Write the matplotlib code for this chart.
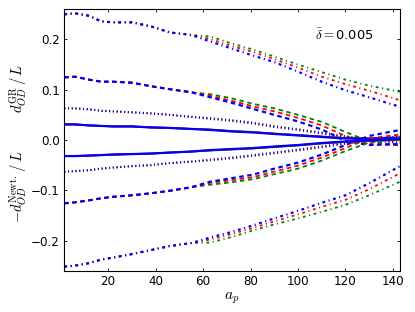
import matplotlib
matplotlib.use('Agg')
import matplotlib.pyplot as plt
import numpy as np

# sample positions along a_p
a_p = [1.5, 6, 12, 17, 22, 30, 38, 46, 55, 63, 72, 81, 90, 100, 110, 120, 130, 143]

# GR curves (top half); first 9 points are common to all three colours
gr_dashdot_head = [0.250, 0.252, 0.247, 0.236, 0.234, 0.234, 0.226, 0.214, 0.209]
gr_dashdot_g = [0.206, 0.192, 0.180, 0.166, 0.150, 0.135, 0.120, 0.108, 0.096]
gr_dashdot_r = [0.201, 0.187, 0.175, 0.161, 0.144, 0.126, 0.111, 0.098, 0.079]
gr_dashdot_b = [0.196, 0.182, 0.168, 0.155, 0.136, 0.116, 0.099, 0.085, 0.066]

gr_dashed_head = [0.1245, 0.126, 0.120, 0.116, 0.116, 0.114, 0.107, 0.101, 0.095]
gr_dashed_g = [0.091, 0.083, 0.072, 0.063, 0.050, 0.036, 0.016, -0.003, -0.011]
gr_dashed_r = [0.088, 0.078, 0.067, 0.057, 0.044, 0.029, 0.008, -0.008, -0.010]
gr_dashed_b = [0.085, 0.074, 0.062, 0.050, 0.037, 0.021, -0.002, -0.010, -0.008]

gr_dotted_head = [0.063, 0.063, 0.061, 0.058, 0.057, 0.055, 0.053, 0.050, 0.046]
gr_dotted_g = [0.044, 0.040, 0.035, 0.028, 0.022, 0.015, 0.008, 0.002, -0.004]
gr_dotted_r = [0.043, 0.039, 0.034, 0.027, 0.021, 0.014, 0.007, 0.001, -0.005]
gr_dotted_b = [0.042, 0.038, 0.033, 0.026, 0.020, 0.013, 0.006, 0.000, -0.006]

gr_solid_head = [0.031, 0.031, 0.029, 0.028, 0.027, 0.027, 0.025, 0.024, 0.022]
gr_solid_g = [0.021, 0.018, 0.016, 0.013, 0.010, 0.007, 0.004, 0.002, 0.002]
gr_solid_r = [0.0205, 0.0175, 0.0155, 0.0125, 0.0095, 0.0065, 0.0035, 0.0025, 0.0035]
gr_solid_b = [0.020, 0.017, 0.015, 0.012, 0.009, 0.006, 0.003, 0.003, 0.005]

# Newtonian curves (bottom half, plotted as -d/L)
nw_dashdot_head = [-0.252, -0.250, -0.245, -0.238, -0.234, -0.227, -0.219, -0.211, -0.205]
nw_dashdot_g = [-0.204, -0.193, -0.180, -0.168, -0.156, -0.143, -0.129, -0.110, -0.083]
nw_dashdot_r = [-0.198, -0.187, -0.175, -0.162, -0.148, -0.133, -0.119, -0.098, -0.066]
nw_dashdot_b = [-0.194, -0.183, -0.170, -0.156, -0.141, -0.125, -0.110, -0.086, -0.052]

nw_dashed_head = [-0.126, -0.124, -0.120, -0.116, -0.113, -0.110, -0.106, -0.101, -0.094]
nw_dashed_g = [-0.089, -0.084, -0.078, -0.068, -0.057, -0.041, -0.022, -0.005, 0.005]
nw_dashed_r = [-0.085, -0.080, -0.074, -0.063, -0.051, -0.035, -0.016, 0.003, 0.011]
nw_dashed_b = [-0.083, -0.076, -0.069, -0.057, -0.045, -0.029, -0.010, 0.008, 0.020]

nw_dotted_head = [-0.063, -0.062, -0.060, -0.057, -0.055, -0.052, -0.050, -0.046, -0.043]
nw_dotted_g = [-0.041, -0.037, -0.032, -0.027, -0.021, -0.015, -0.008, -0.001, 0.005]
nw_dotted_r = [-0.040, -0.036, -0.031, -0.026, -0.020, -0.014, -0.007, 0.000, 0.006]
nw_dotted_b = [-0.039, -0.035, -0.030, -0.025, -0.019, -0.013, -0.006, 0.001, 0.007]

nw_solid_head = [-0.032, -0.032, -0.031, -0.030, -0.029, -0.028, -0.027, -0.025, -0.023]
nw_solid_g = [-0.021, -0.019, -0.017, -0.014, -0.011, -0.007, -0.004, -0.002, 0.000]
nw_solid_r = [-0.0205, -0.0185, -0.0165, -0.0135, -0.0105, -0.0065, -0.0035, -0.0015, 0.001]
nw_solid_b = [-0.020, -0.018, -0.016, -0.013, -0.010, -0.006, -0.003, -0.001, 0.002]

delta_text = r'$\bar{\delta}=$0.005'

plt.rcParams['mathtext.fontset'] = 'cm'
plt.rcParams['lines.scale_dashes'] = False

# line styles in points
styles = {
    'solid': '-',
    'dotted': (0, (0.7, 2.0)),
    'dashed': (0, (3.2, 2.6)),
    'dashdot': (0, (2.0, 2.6, 0.8, 2.6)),
}

fig = plt.figure(figsize=(4.15, 3.12), dpi=100)
ax = fig.add_axes([0.1549, 0.1324, 0.8089, 0.8378])

groups = [
    ('dashdot', gr_dashdot_head, gr_dashdot_g, gr_dashdot_r, gr_dashdot_b),
    ('dashed', gr_dashed_head, gr_dashed_g, gr_dashed_r, gr_dashed_b),
    ('dotted', gr_dotted_head, gr_dotted_g, gr_dotted_r, gr_dotted_b),
    ('solid', gr_solid_head, gr_solid_g, gr_solid_r, gr_solid_b),
    ('dashdot', nw_dashdot_head, nw_dashdot_g, nw_dashdot_r, nw_dashdot_b),
    ('dashed', nw_dashed_head, nw_dashed_g, nw_dashed_r, nw_dashed_b),
    ('dotted', nw_dotted_head, nw_dotted_g, nw_dotted_r, nw_dotted_b),
    ('solid', nw_solid_head, nw_solid_g, nw_solid_r, nw_solid_b),
]

for style, head, yg, yr, yb in groups:
    for tail, col, lw in [(yg, (0, 0.5, 0), 1.3), (yr, 'r', 1.3), (yb, 'b', 1.6)]:
        ax.plot(a_p, head + tail, color=col, linestyle=styles[style], linewidth=lw)

ax.set_xlim(1.5, 143)
ax.set_ylim(-0.26, 0.26)
ax.set_xticks([20, 40, 60, 80, 100, 120, 140])
ax.set_yticks([-0.2, -0.1, 0.0, 0.1, 0.2])
ax.tick_params(direction='in', top=True, right=True, length=2.2, width=0.6,
               labelsize=8.6, pad=3)

ax.set_xlabel(r'$a_p$', fontsize=11, labelpad=2)
ax.text(-0.135, 0.103, r'$d^{\rm GR}_{OD}\,/\,L$', transform=ax.get_yaxis_transform(),
        rotation=90, ha='center', va='center', fontsize=10.5)
ax.text(-0.135, -0.093, r'$-d^{\rm Newt.}_{OD}\,/\,L$', transform=ax.get_yaxis_transform(),
        rotation=90, ha='center', va='center', fontsize=10.5)
ax.text(0.747, 0.90, delta_text, transform=ax.transAxes, ha='left', va='center',
        fontsize=9.4)

fig.savefig('out.png', dpi=100)
